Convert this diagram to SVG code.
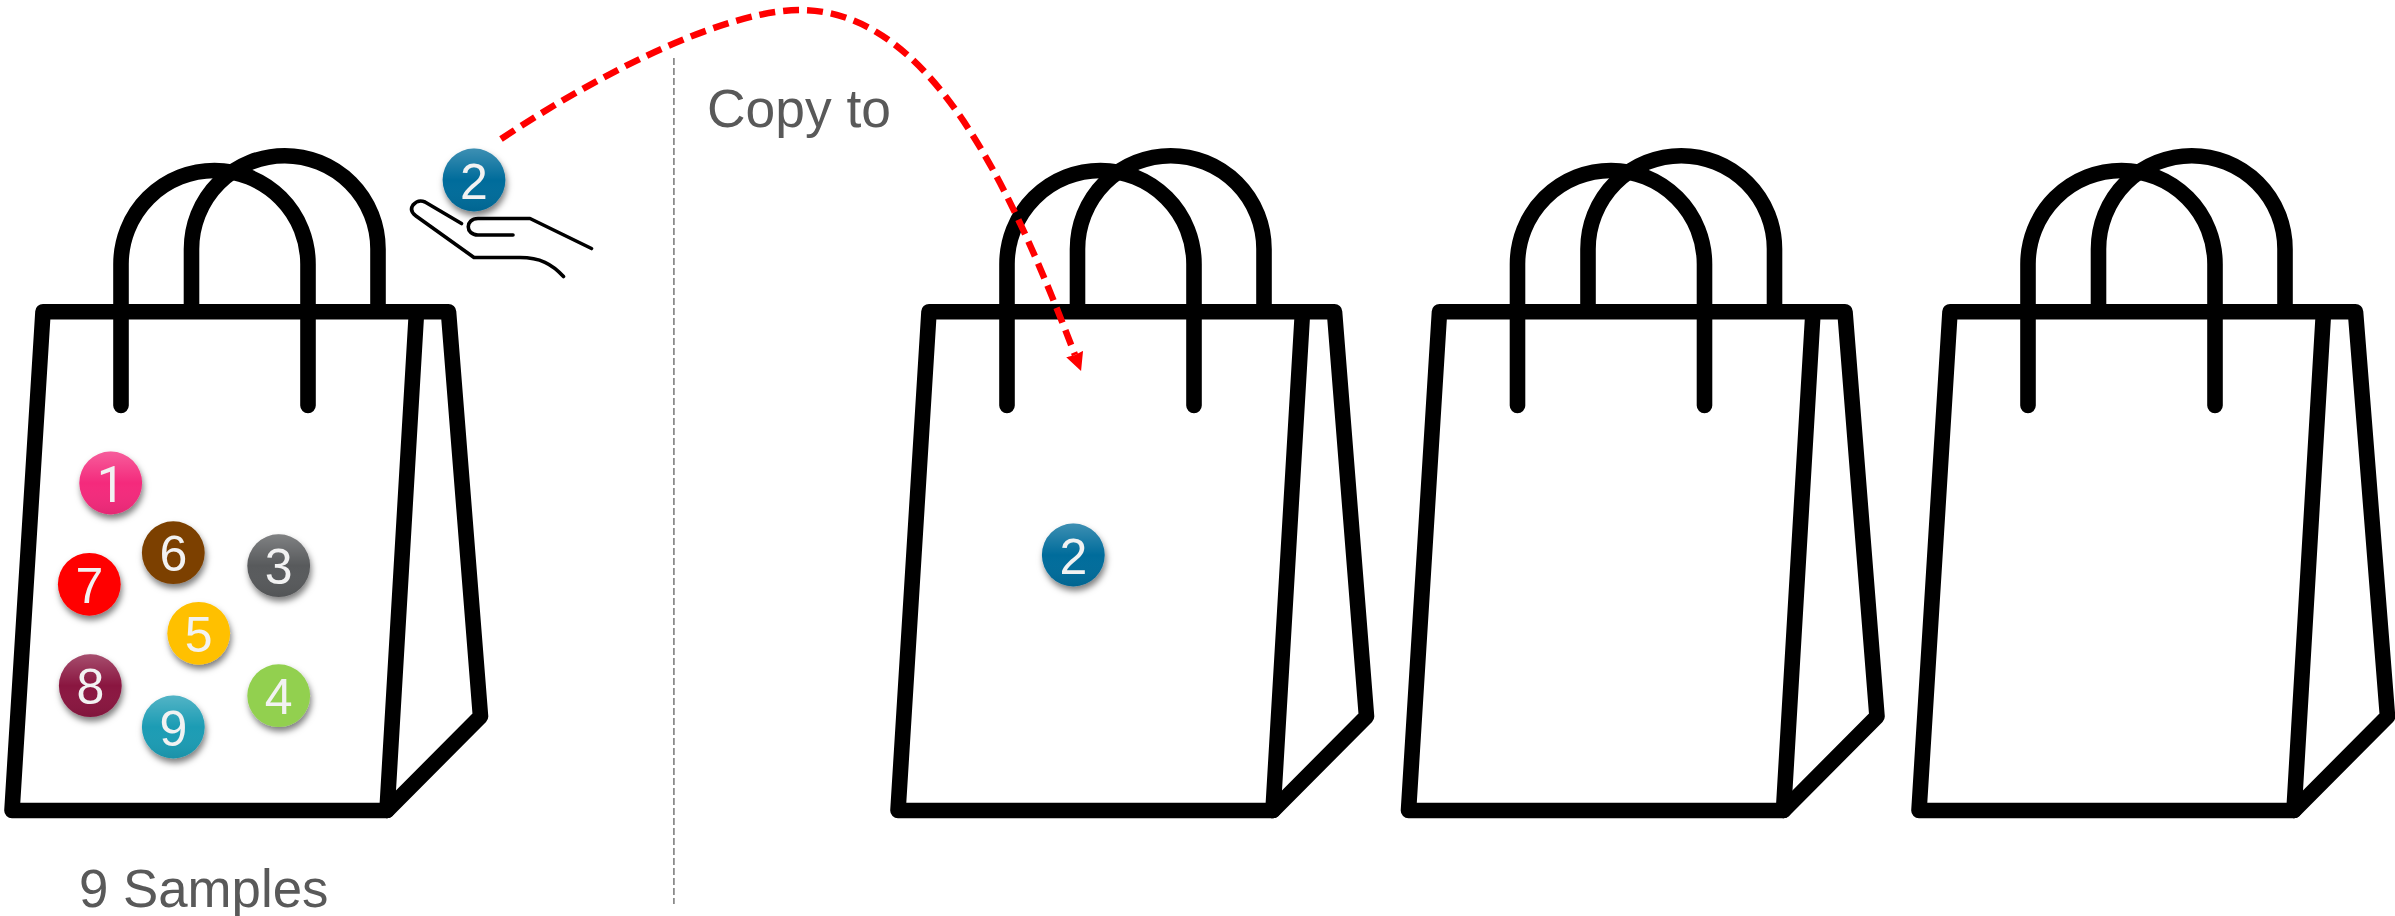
<svg xmlns="http://www.w3.org/2000/svg" width="2395" height="916" viewBox="0 0 2395 916">
<style>
.bag{fill:none;stroke:#000;stroke-width:15.6;stroke-linecap:round;stroke-linejoin:round}
.lbl{font-family:"Liberation Sans",Arial,sans-serif;font-size:53.4px;fill:#595959}
.num{font-family:"Liberation Sans",Arial,sans-serif;font-size:50px;fill:#f2f2f2;text-anchor:middle}
.one{font-family:Roboto,"Liberation Sans",sans-serif}
.hand{fill:none;stroke:#000;stroke-width:3.6;stroke-linecap:round;stroke-linejoin:round}
.ball{filter:url(#sh)}
</style>
<defs>
<filter id="sh" x="-30%" y="-30%" width="170%" height="170%"><feDropShadow dx="1.5" dy="4.5" stdDeviation="3" flood-color="#000" flood-opacity=".5"/></filter>
<linearGradient id="gloss" x1="0" y1="0" x2="0" y2="1"><stop offset="0" stop-color="#fff" stop-opacity=".24"/><stop offset=".5" stop-color="#fff" stop-opacity="0"/><stop offset="1" stop-color="#000" stop-opacity=".07"/></linearGradient>
<marker id="arr" markerUnits="userSpaceOnUse" viewBox="0 0 18 18" refX="1" refY="9" markerWidth="18" markerHeight="18" orient="auto"><path d="M0 0L18 9L0 18L1 9Z" fill="#f00"/></marker>
<g id="bagShape" class="bag">
<path d="M191.5 310V249A93.25 93.25 0 0 1 378 249V310"/>
<path d="M121 405.5V264A93.5 93.5 0 0 1 308 264V405.5"/>
<path d="M43 311.8H448.5L480.5 716.5L387 810.5H12Z"/>
<path d="M387 810.5L416.5 312"/>
</g>
</defs>
<rect width="2395" height="916" fill="#fff"/>
<g id="bag-source"><use href="#bagShape"/></g>
<g id="bag-target-1"><use href="#bagShape" x="886"/></g>
<g id="bag-target-2"><use href="#bagShape" x="1396.5"/></g>
<g id="bag-target-3"><use href="#bagShape" x="1907"/></g>
<g id="hand" class="hand">
<path d="M461.5 223.5L425 202Q418 199 413 205Q409 211 416 216L474 257.5H520C540 257.5 552 264 563.5 276.5"/>
<path d="M591.5 248.5L530 218.5H478C465 218.5 465 235 478 235H513"/>
</g>
<g id="ball-1"><circle class="ball" cx="110.7" cy="483" r="31.4" fill="#f42c7b"/><circle cx="110.7" cy="483" r="31.4" fill="url(#gloss)"/><text class="num one" x="110.7" y="501.5">1</text></g>
<g id="ball-6"><circle class="ball" cx="173.3" cy="552.7" r="31.4" fill="#7b4000"/><text class="num" x="173.3" y="571">6</text></g>
<g id="ball-3"><circle class="ball" cx="278.7" cy="565.7" r="31.4" fill="#595a5c"/><circle cx="278.7" cy="565.7" r="31.4" fill="url(#gloss)"/><text class="num" x="278.7" y="584">3</text></g>
<g id="ball-7"><circle class="ball" cx="89.3" cy="584.3" r="31.4" fill="#f00"/><text class="num" x="89.3" y="603">7</text></g>
<g id="ball-5"><circle class="ball" cx="198.7" cy="633.3" r="31.4" fill="#ffc000"/><text class="num" x="198.7" y="652">5</text></g>
<g id="ball-8"><circle class="ball" cx="90.3" cy="685.7" r="31.4" fill="#8a1541"/><circle cx="90.3" cy="685.7" r="31.4" fill="url(#gloss)"/><text class="num" x="90.3" y="704">8</text></g>
<g id="ball-9"><circle class="ball" cx="173.3" cy="727" r="31.4" fill="#1a9cb4"/><circle cx="173.3" cy="727" r="31.4" fill="url(#gloss)"/><text class="num" x="173.3" y="745.5">9</text></g>
<g id="ball-4"><circle class="ball" cx="278.7" cy="695.7" r="31.4" fill="#92d050"/><text class="num" x="278.7" y="714">4</text></g>
<g id="ball-2-hand"><circle class="ball" cx="474" cy="180" r="31.4" fill="#006c9b"/><circle cx="474" cy="180" r="31.4" fill="url(#gloss)"/><text class="num" x="474" y="198.5">2</text></g>
<g id="ball-2-copy"><circle class="ball" cx="1073.3" cy="555" r="31.4" fill="#006c9b"/><circle cx="1073.3" cy="555" r="31.4" fill="url(#gloss)"/><text class="num" x="1073.3" y="573.5">2</text></g>
<g id="connectors">
<path d="M673.9 58V904" fill="none" stroke="#7f7f7f" stroke-width="1.6" stroke-dasharray="7 3"/>
<path d="M501 139C620 60 735 10 800 10C930 10 1010 185 1075 355" fill="none" stroke="#f00" stroke-width="6.5" stroke-dasharray="16 8" marker-end="url(#arr)"/>
</g>
<text id="label-copy" class="lbl" x="707" y="126.5">Copy to</text>
<text id="label-samples" class="lbl" style="font-size:52.8px" x="79" y="906.5">9 Samples</text>
</svg>
